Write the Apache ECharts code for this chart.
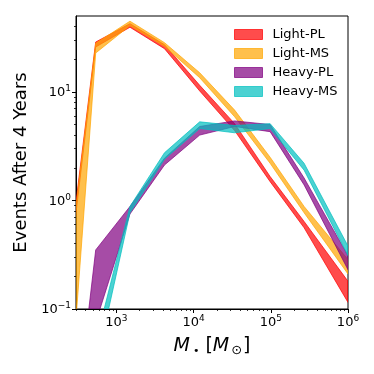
<!DOCTYPE html>
<html>
<head>
<meta charset="utf-8">
<script src="https://cdn.jsdelivr.net/npm/echarts@6/dist/echarts.min.js"></script>
<style>html,body{margin:0;padding:0;background:#fff;}#c{width:374px;height:374px;}</style>
</head>
<body>
<div id="c"></div>
<script>
// Black-hole mass bins (M_sun)
const masses = [190, 540, 1500, 4200, 12000, 34000, 98000, 270000, 1000000];

// Band bounds (events after 4 years)
const lightPLUpper = [0.07, 28.8, 42.5, 27.2, 11.5, 5.1, 1.66, 0.64, 0.18];
const lightPLLower = [0.05, 25.9, 39.4, 25.0, 10.2, 4.4, 1.49, 0.56, 0.115];
const lightMSUpper = [0.06, 28.0, 44.8, 28.4, 15.0, 6.8, 2.5, 0.88, 0.285];
const lightMSLower = [0.001, 22.8, 40.8, 26.3, 13.5, 5.9, 2.2, 0.77, 0.21];
const heavyPLUpper = [0.0006, 0.35, 0.88, 2.45, 4.8, 5.4, 5.0, 1.61, 0.31];
const heavyPLLower = [0.00001, 0.075, 0.75, 2.12, 4.0, 4.8, 4.3, 1.39, 0.23];
const heavyMSUpper = [0.0001, 0.049, 0.88, 2.75, 5.3, 4.9, 5.1, 2.2, 0.38];
const heavyMSLower = [0.00001, 0.029, 0.77, 2.4, 4.6, 4.2, 4.6, 1.9, 0.31];

const seriesNames = ['Light-PL', 'Light-MS', 'Heavy-PL', 'Heavy-MS'];
const seriesColors = ['rgba(255,0,0,0.7)', 'rgba(255,165,0,0.7)', 'rgba(128,0,128,0.7)', 'rgba(0,191,191,0.7)'];

// Tick values
const xMajorTicks = [1000, 10000, 100000, 1000000];
const xMinorTicks = [300, 400, 500, 600, 700, 800, 900,
  2000, 3000, 4000, 5000, 6000, 7000, 8000, 9000,
  20000, 30000, 40000, 50000, 60000, 70000, 80000, 90000,
  200000, 300000, 400000, 500000, 600000, 700000, 800000, 900000];
const yMajorTicks = [0.1, 1, 10];
const yMinorTicks = [0.2, 0.3, 0.4, 0.5, 0.6, 0.7, 0.8, 0.9,
  2, 3, 4, 5, 6, 7, 8, 9, 20, 30, 40];

const bands = [
  [lightPLUpper, lightPLLower],
  [lightMSUpper, lightMSLower],
  [heavyPLUpper, heavyPLLower],
  [heavyMSUpper, heavyMSLower]
];

const FONT = 'DejaVu Sans';
function powLabel(v) {
  const e = Math.round(Math.log10(v));
  const s = e < 0 ? '\u2212' + Math.abs(e) : String(e);
  return '{b|10}{s|' + s + '}';
}
const tickRich = {
  b: { fontSize: 13, fontFamily: FONT, color: '#000', lineHeight: 15, verticalAlign: 'bottom' },
  s: { fontSize: 9, fontFamily: FONT, color: '#000', lineHeight: 9, verticalAlign: 'top' }
};

const chart = echarts.init(document.getElementById('c'), null, { renderer: 'canvas' });

const series = bands.map((b, k) => ({
  type: 'custom',
  name: seriesNames[k],
  xAxisIndex: 0,
  yAxisIndex: 0,
  clip: true,
  itemStyle: { color: seriesColors[k] },
  data: [[1000, 1]],
  renderItem: function (params, api) {
    const upper = b[0], lower = b[1];
    const pts = [];
    for (let i = 0; i < masses.length; i++) pts.push(api.coord([masses[i], upper[i]]));
    for (let i = masses.length - 1; i >= 0; i--) pts.push(api.coord([masses[i], lower[i]]));
    const cs = params.coordSys;
    return {
      type: 'group',
      clipPath: { type: 'rect', shape: { x: cs.x, y: cs.y, width: cs.width, height: cs.height } },
      children: [{
        type: 'polygon',
        shape: { points: pts },
        style: { fill: seriesColors[k], stroke: seriesColors[k], lineWidth: 1 }
      }]
    };
  }
}));

chart.setOption({
  animation: false,
  backgroundColor: '#fff',
  grid: { left: 76, right: 26, top: 16, bottom: 65, show: true, borderColor: '#000', borderWidth: 1, backgroundColor: 'transparent' },
  legend: {
    orient: 'vertical', left: 229, top: 23,
    itemWidth: 28, itemHeight: 10, itemGap: 6,
    icon: 'rect',
    textStyle: { fontSize: 13, fontFamily: FONT, color: '#000', lineHeight: 12, padding: [0, 0, 0, 5] },
    data: seriesNames.map((n, k) => ({ name: n, icon: 'rect', itemStyle: { color: seriesColors[k], borderColor: seriesColors[k], borderWidth: 1 } }))
  },
  xAxis: [{
    type: 'log', logBase: 10, min: 300, max: 1000000, position: 'bottom',
    name: '{i|M}{d|\u2022}{n| [}{i|M}{o|\u2299}{n|]}',
    nameLocation: 'middle', nameGap: 26,
    nameTextStyle: {
      fontSize: 19, fontFamily: FONT, color: '#000',
      rich: {
        i: { fontSize: 19, fontStyle: 'italic', fontFamily: FONT, color: '#000', lineHeight: 22 },
        n: { fontSize: 19, fontFamily: FONT, color: '#000', lineHeight: 22 },
        d: { fontSize: 11, fontFamily: FONT, color: '#000', lineHeight: 22, verticalAlign: 'bottom', padding: [0, 0, 0, 3] },
        o: { fontSize: 13, fontFamily: FONT, color: '#000', lineHeight: 22, verticalAlign: 'bottom', padding: [0, 1, 0, 2] }
      }
    },
    axisLine: { show: true, lineStyle: { color: '#000', width: 1 } },
    axisTick: { show: true, inside: false, length: 4, customValues: xMajorTicks, lineStyle: { color: '#000', width: 1 } },
    axisLabel: { show: true, margin: 5, customValues: xMajorTicks, formatter: powLabel, rich: tickRich },
    splitLine: { show: false }, minorTick: { show: false }
  }, {
    type: 'log', logBase: 10, min: 300, max: 1000000, position: 'bottom', gridIndex: 0,
    axisLine: { show: false },
    axisTick: { show: true, inside: false, length: 2, customValues: xMinorTicks, lineStyle: { color: '#000', width: 0.8 } },
    axisLabel: { show: false },
    splitLine: { show: false }
  }],
  yAxis: [{
    type: 'log', logBase: 10, min: 0.1, max: 50, position: 'left',
    name: 'Events After 4 Years',
    nameLocation: 'middle', nameGap: 41, nameRotate: 90,
    nameTextStyle: { fontSize: 18, fontFamily: FONT, color: '#000' },
    axisLine: { show: true, lineStyle: { color: '#000', width: 1 } },
    axisTick: { show: true, inside: false, length: 4, customValues: yMajorTicks, lineStyle: { color: '#000', width: 1 } },
    axisLabel: { show: true, margin: 5, customValues: yMajorTicks, formatter: powLabel, rich: tickRich },
    splitLine: { show: false }, minorTick: { show: false }
  }, {
    type: 'log', logBase: 10, min: 0.1, max: 50, position: 'left', gridIndex: 0,
    axisLine: { show: false },
    axisTick: { show: true, inside: false, length: 2, customValues: yMinorTicks, lineStyle: { color: '#000', width: 0.8 } },
    axisLabel: { show: false },
    splitLine: { show: false }
  }],
  series: series
});
</script>
</body>
</html>
